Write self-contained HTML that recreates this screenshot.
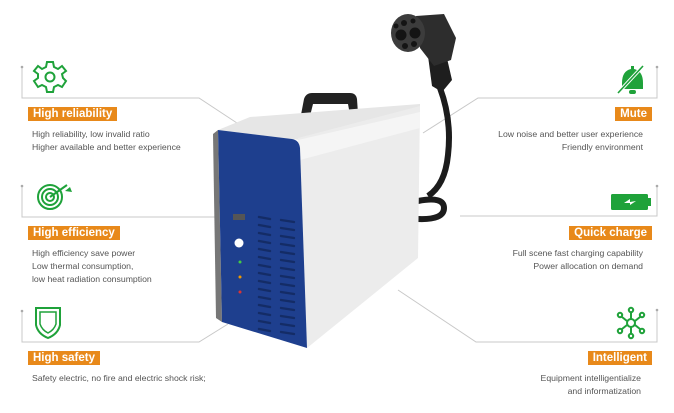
<!DOCTYPE html>
<html><head><meta charset="utf-8"><style>
body{margin:0;width:674px;height:413px;background:#fff;position:relative;overflow:hidden;font-family:"Liberation Sans",Arial,sans-serif}
.lb{position:absolute;background:#e8891a;color:#fff;font-weight:bold;font-size:11.5px;line-height:14px;padding:0 5px;height:14px}
.t{position:absolute;color:#555;font-size:8.7px;line-height:13px;white-space:nowrap}
.r{text-align:right}
svg{position:absolute;left:0;top:0}
</style></head><body>
<svg width="674" height="413" viewBox="0 0 674 413">
<g stroke="#c8c8c8" stroke-width="1" fill="none">
<polyline points="22,67 22,98 199,98 240,125"/>
<polyline points="22,186 22,217 216,217"/>
<polyline points="22,311 22,342 199,342 228,324"/>
<polyline points="657,67 657,98 478,98 423,133"/>
<polyline points="657,186 657,216 460,216"/>
<polyline points="657,310 657,342 476,342 398,290"/>
</g>
<g fill="#aaa"><circle cx="22" cy="67" r="1.3"/><circle cx="22" cy="186" r="1.3"/><circle cx="22" cy="311" r="1.3"/><circle cx="657" cy="67" r="1.3"/><circle cx="657" cy="186" r="1.3"/><circle cx="657" cy="310" r="1.3"/></g>
<g transform="translate(50,77)" stroke="#1fa23a" stroke-width="2" fill="none">
<path d="M-3,-15 L3,-15 L4,-10 L8,-8 L12,-11 L16,-6 L12,-3 L13,1 L16,4 L12,10 L8,8 L4,10 L3,15 L-3,15 L-4,10 L-8,8 L-12,10 L-16,4 L-12,1 L-12,-3 L-16,-6 L-12,-11 L-8,-8 L-4,-10 Z"/>
<circle r="4.5"/></g>
<g transform="translate(50,197)" stroke="#1fa23a" stroke-width="2" fill="none">
<circle r="12"/><circle r="8"/><circle r="4"/><line x1="0" y1="0" x2="17" y2="-12"/></g>
<path d="M65,-0 l5,-4 l2,5 z" transform="translate(0,191)" fill="#1fa23a"/>
<path d="M36,308 L60,308 L60,325 Q58,334 48,338 Q38,334 36,325 Z" stroke="#1fa23a" stroke-width="2" fill="none"/>
<path d="M40,312 L56,312 L56,324 Q54,330 48,333 Q42,330 40,324 Z" stroke="#1fa23a" stroke-width="1.5" fill="none"/>
<path d="M622,89 L622,83 Q622,71 631,69 L631,66 L634,66 L634,69 Q643,71 643,83 L643,89 Z" fill="#1fa23a"/>
<rect x="629" y="90" width="7" height="4" rx="2" fill="#1fa23a"/>
<line x1="618" y1="93" x2="643" y2="66" stroke="#fff" stroke-width="3.5"/>
<line x1="618" y1="93" x2="643" y2="66" stroke="#1fa23a" stroke-width="1.6"/>
<rect x="611" y="194" width="37" height="16" rx="1.5" fill="#1fa23a"/><rect x="648" y="198" width="3" height="8" fill="#1fa23a"/>
<path d="M624,203 L630,199 L630,202 L636,201 L630,205 L630,203 Z" fill="#fff"/>
<g stroke="#1fa23a" stroke-width="2" fill="none"><circle cx="631" cy="323" r="4"/>
<line x1="631" y1="319" x2="631" y2="312"/><line x1="631" y1="327" x2="631" y2="334"/><line x1="627" y1="321" x2="622" y2="317"/><line x1="635" y1="321" x2="640" y2="317"/><line x1="627" y1="325" x2="622" y2="329"/><line x1="635" y1="325" x2="640" y2="329"/>
<circle cx="631" cy="310" r="2.2"/><circle cx="631" cy="336" r="2.2"/><circle cx="620" cy="315" r="2.2"/><circle cx="642" cy="315" r="2.2"/><circle cx="620" cy="331" r="2.2"/><circle cx="642" cy="331" r="2.2"/></g>
<path d="M440,88 Q452,120 448,155 Q445,185 428,196" stroke="#1c1c1c" stroke-width="6" fill="none"/>
<path d="M418,201 Q444,196 444,208 Q444,220 418,219" stroke="#1c1c1c" stroke-width="6" fill="none"/>
<path d="M428,56 L446,54 L452,80 L442,92 L432,86 Z" fill="#1e1e1e"/>
<path d="M416,16 L444,14 L456,38 L451,60 L434,66 L420,48 Z" fill="#2d2d2d"/>
<ellipse cx="408" cy="33" rx="17" ry="19" fill="#3c3c3c"/>
<g fill="#141414"><circle cx="401" cy="35" r="5.5"/><circle cx="415" cy="33" r="5.5"/><circle cx="404" cy="23" r="3"/><circle cx="413" cy="21" r="2.5"/><circle cx="405" cy="46" r="3"/><circle cx="414" cy="44" r="3"/><circle cx="396" cy="26" r="2.5"/></g>
<path d="M300,120 L304,99 Q306,93 312,93 L350,93 Q356,93 357,99 L358,114 L350,115 L348,104 L313,104 L309,120 Z" fill="#222"/>
<polygon points="218,130 250,117 420,104 420,112 300,140" fill="#e6e6e6"/>
<polygon points="298,138 420,106 418,258 307,348" fill="#ececec"/>
<polygon points="300,160 420,128 420,112 298,140" fill="#f5f5f5"/>
<polygon points="213,134 218,130 222,322 216,318" fill="#777"/>
<path d="M218,130 L292,139 Q299,140 300,148 L307,348 L222,322 Z" fill="#1e3f8e"/>
<rect x="233" y="214" width="12" height="6" fill="#555"/>
<circle cx="239" cy="243" r="4.5" fill="#fff"/>
<circle cx="240" cy="262" r="1.5" fill="#4c4"/><circle cx="240" cy="277" r="1.5" fill="#e90"/><circle cx="240" cy="292" r="1.5" fill="#d33"/>
<g stroke="#142c66" stroke-width="2.4" stroke-linecap="round">
<line x1="259" y1="217" x2="270" y2="219"/><line x1="259" y1="225" x2="270" y2="227"/><line x1="259" y1="233" x2="270" y2="235"/><line x1="259" y1="241" x2="270" y2="243"/><line x1="259" y1="249" x2="270" y2="251"/><line x1="259" y1="257" x2="270" y2="259"/><line x1="259" y1="265" x2="270" y2="267"/><line x1="259" y1="273" x2="270" y2="275"/><line x1="259" y1="281" x2="270" y2="283"/><line x1="259" y1="289" x2="270" y2="291"/><line x1="259" y1="297" x2="270" y2="299"/><line x1="259" y1="305" x2="270" y2="307"/><line x1="259" y1="313" x2="270" y2="315"/><line x1="259" y1="321" x2="270" y2="323"/><line x1="259" y1="329" x2="270" y2="331"/>
<line x1="281" y1="220" x2="294" y2="222"/><line x1="281" y1="228" x2="294" y2="230"/><line x1="281" y1="236" x2="294" y2="238"/><line x1="281" y1="244" x2="294" y2="246"/><line x1="281" y1="252" x2="294" y2="254"/><line x1="281" y1="260" x2="294" y2="262"/><line x1="281" y1="268" x2="294" y2="270"/><line x1="281" y1="276" x2="294" y2="278"/><line x1="281" y1="284" x2="294" y2="286"/><line x1="281" y1="292" x2="294" y2="294"/><line x1="281" y1="300" x2="294" y2="302"/><line x1="281" y1="308" x2="294" y2="310"/><line x1="281" y1="316" x2="294" y2="318"/><line x1="281" y1="324" x2="294" y2="326"/><line x1="281" y1="332" x2="294" y2="334"/>
</g>
</svg>
<div class="lb" style="left:28px;top:107px">High reliability</div>
<div class="t" style="left:32px;top:128px">High reliability, low invalid ratio<br>Higher available and better experience</div>
<div class="lb" style="left:28px;top:226px">High efficiency</div>
<div class="t" style="left:32px;top:247px">High efficiency save power<br>Low thermal consumption,<br>low heat radiation consumption</div>
<div class="lb" style="left:28px;top:351px">High safety</div>
<div class="t" style="left:32px;top:372px">Safety electric, no fire and electric shock risk;</div>
<div class="lb" style="right:22px;top:107px">Mute</div>
<div class="t r" style="right:31px;top:128px">Low noise and better user experience<br>Friendly environment</div>
<div class="lb" style="right:22px;top:226px">Quick charge</div>
<div class="t r" style="right:31px;top:247px">Full scene fast charging capability<br>Power allocation on demand</div>
<div class="lb" style="right:22px;top:351px">Intelligent</div>
<div class="t r" style="right:33px;top:372px">Equipment intelligentialize<br>and informatization</div>
</body></html>
